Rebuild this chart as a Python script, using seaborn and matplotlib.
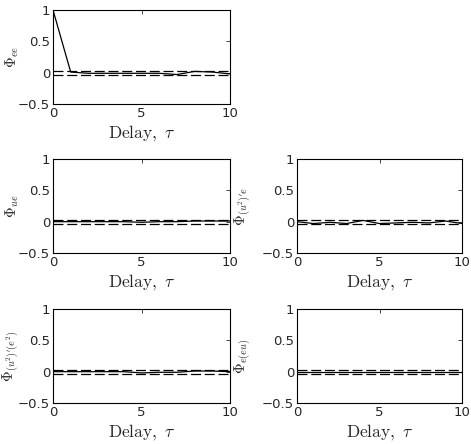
import matplotlib
matplotlib.use("Agg")
import matplotlib.pyplot as plt
import seaborn as sns
import pandas as pd

# Delay axis and correlation values
delay = list(range(0, 11))
phi_ee = [1.0, 0.01, -0.01, -0.01, -0.01, -0.01, -0.01, -0.03, 0.02, 0.01, -0.02]
phi_ue = [0.0, 0.0, 0.0, 0.0, 0.0, -0.01, 0.0, 0.0, 0.01, 0.01, 0.01]
phi_u2e = [0.0, -0.03, -0.01, -0.03, 0.02, -0.03, -0.02, -0.01, -0.02, 0.01, -0.03]
phi_u2e2 = [0.0, 0.0, 0.0, 0.0, 0.0, -0.02, -0.01, -0.01, 0.01, 0.01, 0.0]
phi_eeu = [0.0, 0.0, 0.0, 0.0, 0.0, 0.0, 0.0, 0.0, 0.0, 0.0, 0.0]
conf_bound = 0.03

panels = [
    ((0, 0), phi_ee, r"$\Phi_{ee}$"),
    ((1, 0), phi_ue, r"$\Phi_{ue}$"),
    ((1, 1), phi_u2e, r"$\Phi_{(u^2)'e}$"),
    ((2, 0), phi_u2e2, r"$\Phi_{(u^2)'(e^2)}$"),
    ((2, 1), phi_eeu, r"$\Phi_{e(eu)}$"),
]

sns.set_style("white")
plt.rcParams["font.family"] = ["DejaVu Sans"]
plt.rcParams["mathtext.fontset"] = "cm"

fig = plt.figure(figsize=(4.71, 4.44), dpi=100)
W, H = 471, 444
col_x = [(53, 230), (297, 462)]
row_y = [(10, 104), (159, 253), (309, 403)]
ylab_off = [32, 44]

for (r, c), vals, label in panels:
    x0, x1 = col_x[c]
    y0, y1 = row_y[r]
    ax = fig.add_axes([x0 / W, 1 - y1 / H, (x1 - x0) / W, (y1 - y0) / H])
    df = pd.DataFrame({"delay": delay, "phi": vals})
    sns.lineplot(data=df, x="delay", y="phi", ax=ax, color="black", linewidth=0.9)
    ax.axhline(conf_bound, color="black", linestyle=(0, (8, 3)), linewidth=0.9)
    ax.axhline(-conf_bound, color="black", linestyle=(0, (8, 3)), linewidth=0.9)
    ax.set_xlim(0, 10)
    ax.set_ylim(-0.5, 1)
    ax.set_xticks([0, 5, 10])
    ax.set_yticks([-0.5, 0, 0.5, 1])
    ax.set_yticklabels(["\u22120.5", "0", "0.5", "1"])
    ax.tick_params(direction="in", length=3, width=0.6, top=True, right=True,
                   labelsize=9.5, pad=2)
    for s in ax.spines.values():
        s.set_color("black")
        s.set_linewidth(0.8)
    ax.set_xlabel(r"$\mathrm{Delay},\ \tau$", fontsize=12.5, labelpad=3)
    ax.set_ylabel(label, fontsize=10.5)
    ax.yaxis.set_label_coords(-ylab_off[c] / (x1 - x0), 0.5)

fig.savefig("out.png", dpi=100)
